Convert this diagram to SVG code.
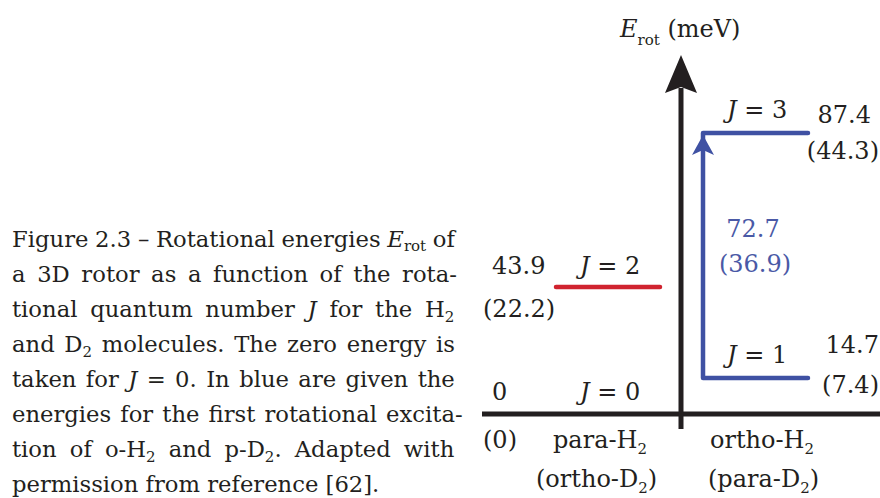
<svg xmlns="http://www.w3.org/2000/svg" width="880" height="498" viewBox="0 0 880 498">
<style>
text.cap{font-family:"DejaVu Serif","Liberation Serif",serif;font-size:22.7px;fill:#231f20}
.lb{font-family:"DejaVu Serif","Liberation Serif",serif;font-size:24px;fill:#231f20}
.bl{fill:#4a59a6}
.it{font-style:italic}
.sub{font-size:15px}
.ax{stroke:#231f20;stroke-width:5;fill:none}
.lv{stroke-width:4.5;fill:none;stroke-linecap:round;stroke-linejoin:round}
</style>
<rect width="880" height="498" fill="#ffffff"/>
<g id="caption">
<text class="cap" x="12" y="247" word-spacing="-0.5">Figure 2.3 – Rotational energies <tspan class="it">E</tspan><tspan class="sub" dy="4">rot</tspan><tspan dy="-4"> of</tspan></text>
<text class="cap" x="12" y="282" word-spacing="4.4">a 3D rotor as a function of the rota-</text>
<text class="cap" x="12" y="317" word-spacing="5.5">tional quantum number <tspan class="it">J</tspan> for the H<tspan class="sub" dy="5">2</tspan></text>
<text class="cap" x="12" y="352" word-spacing="2.5">and D<tspan class="sub" dy="5">2</tspan><tspan dy="-5"> molecules. The zero energy is</tspan></text>
<text class="cap" x="12" y="387" word-spacing="2.2">taken for <tspan class="it">J</tspan> = 0. In blue are given the</text>
<text class="cap" x="12" y="422" word-spacing="1.9">energies for the first rotational excita-</text>
<text class="cap" x="12" y="457" word-spacing="5.9">tion of o-H<tspan class="sub" dy="5">2</tspan><tspan dy="-5"> and p-D</tspan><tspan class="sub" dy="5">2</tspan><tspan dy="-5">. Adapted with</tspan></text>
<text class="cap" x="12" y="492">permission from reference [62].</text>
</g>
<g id="connectors">
<line class="ax" x1="482" y1="414" x2="880" y2="414"/>
<line class="ax" x1="681" y1="429" x2="681" y2="88"/>
<polygon points="681,55 697,93 681,87 665,93" fill="#231f20"/>
<path class="lv" d="M808,133 H703 V378 H808" stroke="#3f51a3"/>
<polygon points="703,135 714,155 703,150 692,155" fill="#3f51a3"/>
</g>
<g id="axis-label">
<text class="lb" x="620" y="37"><tspan class="it">E</tspan><tspan class="sub" dy="8">rot</tspan><tspan dy="-8"> (meV)</tspan></text>
</g>
<g id="level-J3">
<text class="lb" x="727" y="118"><tspan class="it">J</tspan> = 3</text>
<text class="lb" x="871" y="123" text-anchor="end">87.4</text>
<text class="lb" x="879" y="159" text-anchor="end">(44.3)</text>
</g>
<g id="transition">
<text class="lb bl" x="753" y="237" text-anchor="middle">72.7</text>
<text class="lb bl" x="755" y="272" text-anchor="middle">(36.9)</text>
</g>
<g id="level-J2">
<line class="lv" x1="556" y1="287" x2="660" y2="287" stroke="#d0232f"/>
<text class="lb" x="492" y="274">43.9</text>
<text class="lb" x="580" y="274"><tspan class="it">J</tspan> = 2</text>
<text class="lb" x="483" y="317">(22.2)</text>
</g>
<g id="level-J1">
<text class="lb" x="727" y="363"><tspan class="it">J</tspan> = 1</text>
<text class="lb" x="879" y="353" text-anchor="end">14.7</text>
<text class="lb" x="879" y="393" text-anchor="end">(7.4)</text>
</g>
<g id="level-J0">
<text class="lb" x="492" y="400">0</text>
<text class="lb" x="580" y="400"><tspan class="it">J</tspan> = 0</text>
<text class="lb" x="483" y="448">(0)</text>
</g>
<g id="para-H2">
<text class="lb" x="553" y="448">para-H<tspan class="sub" dy="6">2</tspan></text>
<text class="lb" x="536" y="487">(ortho-D<tspan class="sub" dy="6">2</tspan><tspan dy="-6">)</tspan></text>
</g>
<g id="ortho-H2">
<text class="lb" x="710" y="448">ortho-H<tspan class="sub" dy="6">2</tspan></text>
<text class="lb" x="708" y="487">(para-D<tspan class="sub" dy="6">2</tspan><tspan dy="-6">)</tspan></text>
</g>
</svg>
